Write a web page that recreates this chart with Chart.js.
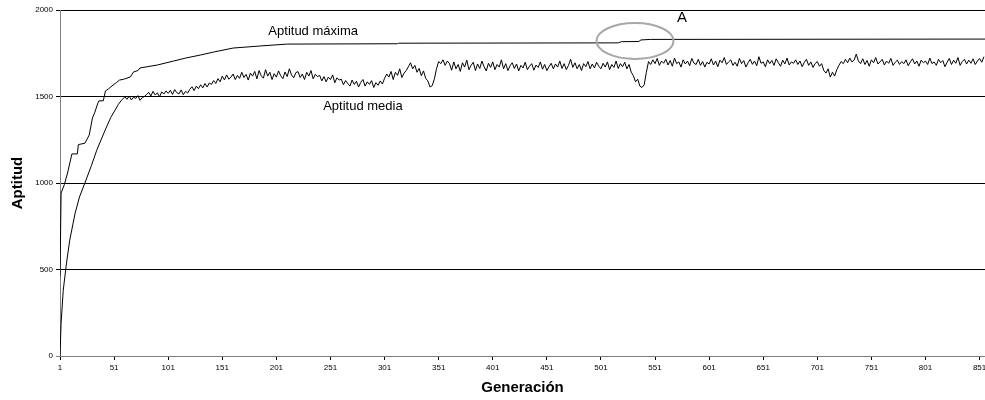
<!DOCTYPE html>
<html>
<head>
<meta charset="utf-8">
<script src="https://cdn.jsdelivr.net/npm/chart.js@4.4.1/dist/chart.umd.min.js"></script>
<style>
  html, body { margin: 0; padding: 0; background: #fff; }
  #wrap { width: 985px; height: 400px; position: relative; }
</style>
</head>
<body>
<div id="wrap"><canvas id="chart"></canvas></div>
<script>
// x ticks (generation) and y ticks
const xTicks = [1, 51, 101, 151, 201, 251, 301, 351, 401, 451, 501, 551, 601, 651, 701, 751, 801, 851];
const yTicks = [0, 500, 1000, 1500, 2000];

// Aptitud máxima: [generation, value] at the corners of the steps
const maxGen = [1, 2, 5, 8, 12, 17, 18, 24, 28, 31, 33, 36, 37, 41, 43, 46, 50, 53, 56, 60,
  66, 69, 73, 75, 91, 106, 117, 131, 143, 161, 186, 211, 313, 314, 517, 520, 536, 538, 547, 856];
const maxVal = [460, 942, 990, 1058, 1168, 1168, 1222, 1230, 1277, 1376, 1405, 1462, 1475, 1475, 1532, 1545, 1566, 1580, 1595, 1600,
  1613, 1642, 1650, 1665, 1682, 1705, 1722, 1740, 1757, 1780, 1792, 1803, 1805, 1808, 1810, 1817, 1818, 1827, 1830, 1832];

// Aptitud media: smooth start
const mediaStartGen = [1, 2, 4, 7, 10, 15, 19, 24, 30, 35, 40, 44, 48, 52, 55, 58];
const mediaStartVal = [0, 190, 380, 537, 670, 826, 919, 1000, 1100, 1190, 1265, 1324, 1380, 1422, 1455, 1480];

// Aptitud media: every 2nd generation from 61 to 855
const mediaFrom = 61;
const mediaEvery = 2;
const mediaVal = [
  1498, 1484, 1503, 1480, 1496, 1489, 1505, 1478, 1494, 1500,
  1512, 1524, 1503, 1530, 1509, 1521, 1498, 1527, 1514, 1532,
  1518, 1536, 1512, 1540, 1522, 1515, 1538, 1510, 1530, 1520,
  1542, 1556, 1534, 1560, 1545, 1568, 1550, 1575, 1555, 1578,
  1570, 1592, 1575, 1603, 1585, 1618, 1596, 1625, 1600, 1612,
  1630, 1598, 1622, 1605, 1640, 1610, 1628, 1595, 1635, 1618,
  1645, 1602, 1650, 1620, 1606, 1655, 1618, 1640, 1598, 1632,
  1612, 1648, 1620, 1603, 1642, 1615, 1660, 1625, 1608, 1638,
  1644, 1610, 1630, 1598, 1640, 1618, 1650, 1602, 1628, 1615,
  1622, 1590, 1615, 1585, 1612, 1598, 1625, 1580, 1608, 1595,
  1600, 1568, 1592, 1575, 1560, 1595, 1570, 1588, 1555, 1582,
  1598, 1560, 1585, 1570, 1592, 1552, 1580, 1565, 1590, 1572,
  1605, 1630, 1612, 1645, 1598, 1640, 1622, 1660, 1610, 1635,
  1650, 1672, 1695, 1660, 1680, 1640, 1662, 1620, 1648, 1605,
  1590, 1555, 1562, 1600, 1660, 1702, 1690, 1712, 1680, 1705,
  1690, 1652, 1700, 1660, 1685, 1645, 1695, 1670, 1710, 1655,
  1680, 1698, 1650, 1688, 1662, 1705, 1672, 1648, 1692, 1668,
  1700, 1655, 1685, 1670, 1712, 1660, 1690, 1650, 1678, 1695,
  1662, 1688, 1648, 1680, 1665, 1698, 1655, 1675, 1690, 1652,
  1682, 1668, 1700, 1658, 1685, 1650, 1672, 1692, 1660, 1688,
  1670, 1705, 1662, 1690, 1655, 1680, 1715, 1668, 1695, 1660,
  1685, 1650, 1690, 1672, 1702, 1660, 1688, 1665, 1698, 1675,
  1660, 1692, 1670, 1700, 1655, 1685, 1668, 1705, 1662, 1690,
  1672, 1698, 1660, 1685, 1640, 1620, 1585, 1600, 1560, 1552,
  1568, 1640, 1702, 1685, 1712, 1690, 1720, 1680, 1705, 1692,
  1715, 1682, 1708, 1675, 1722, 1690, 1700, 1670, 1712, 1688,
  1705, 1678, 1720, 1692, 1685, 1715, 1680, 1702, 1670, 1698,
  1688, 1718, 1682, 1705, 1672, 1710, 1695, 1725, 1685, 1700,
  1712, 1680, 1698, 1675, 1720, 1690, 1708, 1670, 1695, 1715,
  1686, 1705, 1678, 1730, 1692, 1700, 1672, 1712, 1690, 1708,
  1680, 1718, 1695, 1675, 1710, 1688, 1722, 1682, 1700, 1692,
  1712, 1685, 1705, 1672, 1698, 1715, 1680, 1700, 1668, 1690,
  1702, 1675, 1690, 1650, 1635, 1660, 1612, 1640, 1618, 1655,
  1680, 1702, 1690, 1715, 1695, 1722, 1700, 1710, 1745, 1705,
  1690, 1718, 1685, 1708, 1675, 1712, 1695, 1725, 1688, 1700,
  1715, 1682, 1705, 1692, 1720, 1680, 1698, 1710, 1685, 1702,
  1690, 1712, 1678, 1700, 1718, 1688, 1705, 1675, 1710, 1695,
  1705, 1685, 1722, 1690, 1700, 1680, 1715, 1695, 1708, 1672,
  1698, 1720, 1685, 1710, 1692, 1725, 1680, 1702, 1715, 1688,
  1710, 1692, 1718, 1685, 1705, 1720, 1698, 1730
];

const maxPoints = maxGen.map((g, i) => ({ x: g, y: maxVal[i] }));
const mediaPoints = mediaStartGen.map((g, i) => ({ x: g, y: mediaStartVal[i] }))
  .concat(mediaVal.map((v, i) => ({ x: mediaFrom + i * mediaEvery, y: v })));

const FONT = "'Liberation Sans', Arial, sans-serif";

// text labels and the grey ellipse around point A
const notes = {
  id: "notes",
  afterDatasetsDraw(chart) {
    const { ctx, scales: { x, y } } = chart;
    ctx.save();
    ctx.fillStyle = "#000";
    ctx.textAlign = "center";
    ctx.textBaseline = "middle";
    ctx.font = "13px " + FONT;
    ctx.fillText("Aptitud máxima", x.getPixelForValue(235), y.getPixelForValue(1879));
    ctx.fillText("Aptitud media", x.getPixelForValue(281), y.getPixelForValue(1445));
    ctx.font = "15px " + FONT;
    ctx.fillText("A", x.getPixelForValue(576), y.getPixelForValue(1954));

    ctx.strokeStyle = "#a8a8a8";
    ctx.lineWidth = 2;
    ctx.beginPath();
    ctx.ellipse(x.getPixelForValue(532.5), y.getPixelForValue(1821), 38.5, 18, 0, 0, Math.PI * 2);
    ctx.stroke();
    ctx.restore();
  },
};

new Chart(document.getElementById("chart"), {
  type: "line",
  data: {
    datasets: [
      {
        label: "Aptitud máxima",
        data: maxPoints,
        borderColor: "#000",
        borderWidth: 1,
        pointRadius: 0,
        tension: 0,
      },
      {
        label: "Aptitud media",
        data: mediaPoints,
        borderColor: "#000",
        borderWidth: 1,
        pointRadius: 0,
        tension: 0,
      },
    ],
  },
  options: {
    responsive: true,
    maintainAspectRatio: false,
    animation: false,
    layout: { padding: { top: 10, right: 0, left: 0, bottom: 0 } },
    plugins: {
      legend: { display: false },
      tooltip: { enabled: false },
    },
    scales: {
      x: {
        type: "linear",
        min: 1,
        max: 856,
        afterBuildTicks: (axis) => {
          axis.ticks = xTicks.map((v) => ({ value: v }));
        },
        afterFit: (axis) => {
          axis.height = 44;
          axis.paddingLeft = 0;
          axis.paddingRight = 0;
        },
        border: { color: "#808080", width: 1 },
        grid: { drawOnChartArea: false, drawTicks: true, tickLength: 4, color: "#000" },
        ticks: {
          autoSkip: false,
          maxRotation: 0,
          padding: 3,
          color: "#000",
          font: { family: FONT, size: 8 },
          callback: (v) => String(v),
        },
        title: {
          display: true,
          text: "Generación",
          color: "#000",
          padding: { top: 0, bottom: 3 },
          font: { family: FONT, size: 15, weight: "bold" },
        },
      },
      y: {
        min: 0,
        max: 2000,
        afterBuildTicks: (axis) => {
          axis.ticks = yTicks.map((v) => ({ value: v }));
        },
        afterFit: (axis) => {
          axis.width = 60;
          axis.paddingTop = 0;
          axis.paddingBottom = 0;
        },
        border: { color: "#808080", width: 1 },
        grid: {
          color: (c) => (c.tick && c.tick.value === 0 ? "#808080" : "#000"),
          tickLength: 4,
        },
        ticks: {
          padding: 3,
          color: "#000",
          font: { family: FONT, size: 8 },
          callback: (v) => String(v),
        },
        title: {
          display: true,
          text: "Aptitud",
          color: "#000",
          padding: { top: 9, bottom: 0 },
          font: { family: FONT, size: 15, weight: "bold" },
        },
      },
    },
  },
  plugins: [notes],
});
</script>
</body>
</html>
